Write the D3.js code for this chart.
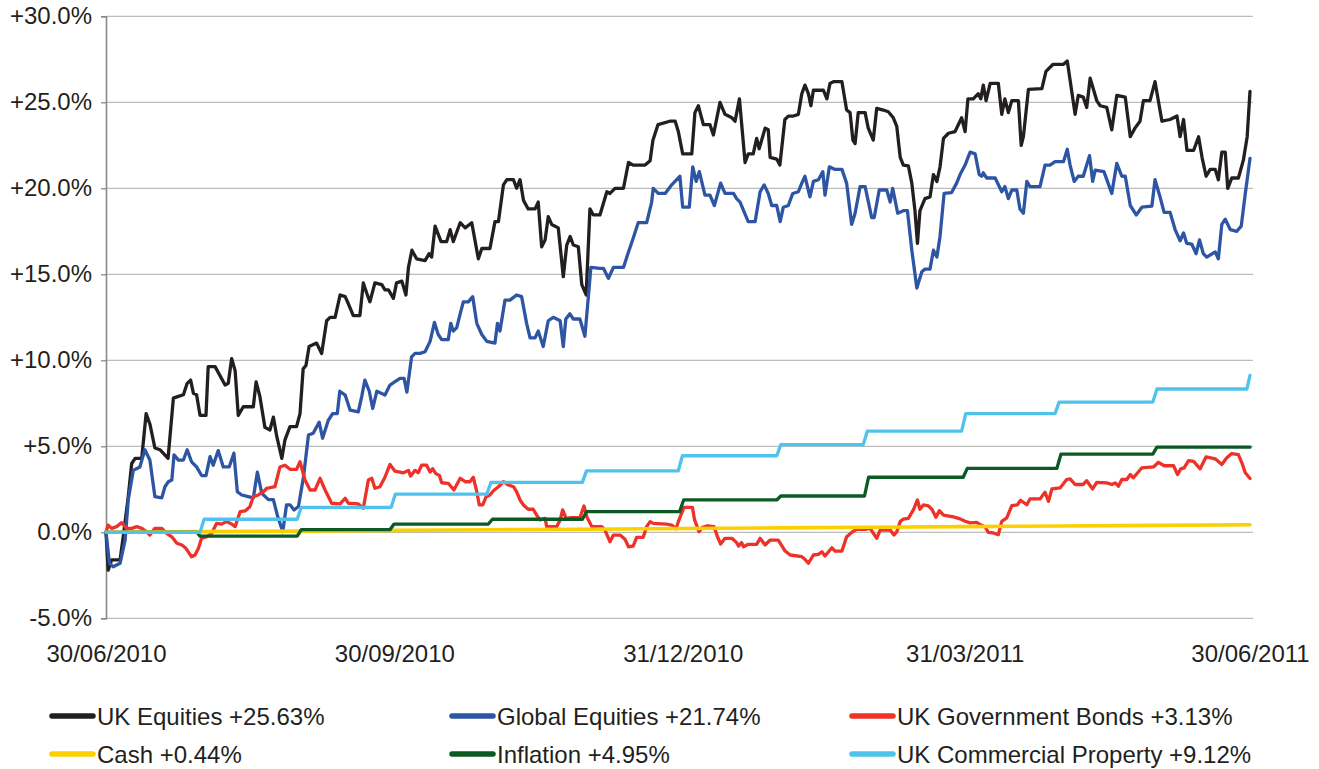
<!DOCTYPE html>
<html><head><meta charset="utf-8">
<script src="https://cdn.jsdelivr.net/npm/d3@7"></script>
<style>
body{margin:0;background:#fff;}
svg{display:block;font-family:"Liberation Sans",Arial,Helvetica,sans-serif;}
</style>
</head><body>
<svg id="chart" width="1319" height="769"></svg>
<script>
// ---------- DATA ----------
const startDate = "2010-06-30";
const endDate = "2011-06-30";
const xTickDates = ["2010-06-30","2010-09-30","2010-12-31","2011-03-31","2011-06-30"];
const yTicks = [-5,0,5,10,15,20,25,30];
const seriesNames = ["UK Equities +25.63%","Global Equities +21.74%","UK Government Bonds +3.13%","Cash +0.44%","Inflation +4.95%","UK Commercial Property +9.12%"];

// [days since 30/06/2010, % return]
const ukEquities = [[0,0],[0.7,-2.2],[1.8,-1.6],[4.5,-1.6],[5.5,-0.25],[7.1,2.07],[8.2,4.0],[9.3,4.3],[11.4,4.3],[12.8,6.9],[14.0,6.3],[15.6,4.9],[17.2,4.8],[19.8,4.3],[21.5,7.8],[23.1,7.9],[24.7,8.0],[25.9,8.66],[27.0,8.85],[27.9,8.08],[28.9,8.0],[30.0,6.8],[31.9,6.8],[32.6,9.63],[34.8,9.63],[38.0,8.56],[39.0,8.66],[40.1,10.1],[41.2,9.4],[42.2,6.8],[43.8,7.3],[47.0,7.3],[47.9,8.75],[49.1,7.9],[50.7,6.1],[52.3,5.95],[53.4,6.7],[54.5,5.56],[56.1,4.3],[57.1,5.37],[58.7,6.14],[60.8,6.14],[61.9,6.9],[62.9,9.5],[63.8,9.7],[64.8,10.8],[67.2,11.0],[68.8,10.4],[70.4,12.3],[71.5,12.5],[73.1,12.5],[74.7,13.8],[76.3,13.7],[77.3,13.3],[78.9,12.6],[81.0,12.6],[82.1,14.5],[83.2,13.9],[84.2,13.4],[85.8,14.5],[88.0,14.4],[89.0,14.1],[90.1,14.1],[91.7,13.6],[92.7,14.5],[94.4,14.6],[95.7,13.8],[96.5,15.4],[97.6,16.4],[99.1,15.9],[101.8,15.8],[103.1,16.2],[103.9,16.0],[105.0,17.8],[106.9,16.9],[108.7,16.9],[109.8,17.6],[110.8,16.9],[113.0,18.0],[114.6,17.7],[116.7,18.0],[118.8,15.9],[119.9,16.5],[122.5,16.5],[124.1,18.06],[125.2,18.06],[126.8,20.2],[127.9,20.5],[130.0,20.5],[131.0,20.0],[132.1,20.5],[133.2,19.3],[134.7,18.8],[136.9,18.8],[137.9,19.2],[139.0,16.6],[140.1,17.0],[141.1,18.35],[142.2,17.9],[144.3,17.7],[145.9,14.86],[147.0,16.7],[148.1,17.2],[149.1,16.7],[150.7,16.6],[151.8,14.4],[153.2,13.8],[154.4,18.8],[155.5,18.45],[157.6,18.45],[159.8,19.8],[160.8,19.7],[162.4,20.0],[165.1,20.0],[166.7,21.5],[168.2,21.35],[172.0,21.35],[173.6,21.6],[174.5,22.8],[176.1,23.7],[179.9,23.9],[181.6,23.9],[182.6,23.3],[184.0,22.0],[186.9,22.0],[187.9,24.4],[189.0,24.8],[190.6,23.7],[192.7,23.7],[193.8,23.1],[195.9,25.0],[197.5,24.3],[199.7,24.1],[200.7,23.9],[202.1,25.2],[203.9,21.5],[204.9,22.0],[206.5,22.0],[207.6,22.9],[208.4,22.3],[210.3,23.5],[211.3,23.4],[211.9,21.8],[214.0,21.7],[215.0,21.35],[216.6,24.0],[217.7,24.2],[219.3,24.2],[220.9,24.3],[222.0,25.5],[223.0,26.0],[224.1,25.5],[224.9,24.8],[225.7,25.7],[228.9,25.7],[230.0,25.2],[231.0,26.1],[232.1,26.2],[234.8,26.2],[236.3,24.55],[237.4,24.4],[238.3,22.8],[239.0,22.6],[240.0,24.4],[242.2,24.4],[243.2,23.5],[244.8,22.8],[245.9,24.65],[248.0,24.55],[249.6,24.45],[251.2,24.1],[252.3,23.6],[253.4,21.8],[254.4,21.35],[256.0,21.3],[257.1,20.3],[258.1,18.7],[258.9,16.8],[259.7,18.7],[261.3,19.4],[262.9,19.5],[264.0,20.8],[265.1,20.4],[266.1,21.25],[267.2,22.9],[268.8,23.2],[270.9,23.3],[273.0,24.1],[274.1,23.3],[275.0,25.2],[276.7,25.2],[278.3,25.5],[279.1,25.2],[279.9,26.0],[280.8,25.1],[282.1,26.1],[284.7,26.1],[285.8,24.3],[286.8,25.2],[287.9,24.4],[289.0,25.1],[291.1,25.1],[292.0,22.5],[292.7,23.0],[294.3,25.75],[298.6,25.8],[299.9,26.8],[302.1,27.2],[305.4,27.2],[306.7,27.4],[309.2,24.3],[310.2,25.4],[311.8,25.3],[312.9,24.7],[314.0,26.4],[316.1,25.1],[317.2,24.8],[319.3,24.7],[320.9,23.4],[322.5,25.4],[325.2,25.3],[326.8,23.0],[328.3,23.5],[329.9,23.9],[331.0,25.1],[333.1,25.1],[334.7,26.2],[336.9,23.9],[339.5,24.0],[341.7,24.2],[342.7,23.0],[343.8,24.0],[344.9,22.2],[347.0,22.2],[348.6,23.0],[349.7,21.8],[351.0,20.7],[352.3,21.1],[353.9,21.1],[354.9,20.5],[356.0,22.1],[357.1,22.1],[357.9,20.0],[359.2,20.6],[361.3,20.6],[362.9,21.65],[364.1,23.0],[365,25.63]];

const globalEquities = [[0,0],[1.1,-1.8],[2.3,-2.0],[4.5,-1.8],[6.1,-0.45],[7.1,1.9],[8.7,3.6],[10.8,3.8],[12.4,4.8],[14.0,4.2],[15.6,2.07],[17.8,2.0],[18.8,2.65],[19.9,2.94],[21.0,3.04],[21.7,4.5],[23.1,4.2],[24.7,4.2],[25.9,4.8],[27.3,4.1],[28.9,3.8],[30.5,3.3],[31.9,3.3],[33.2,4.4],[34.2,3.9],[35.8,4.75],[37.4,3.8],[39.3,3.8],[40.8,4.6],[41.9,2.36],[43.3,2.17],[45.4,2.07],[47.0,2.0],[48.3,3.5],[49.7,2.27],[51.8,1.9],[53.4,1.9],[54.8,0.9],[56.4,0.03],[57.6,1.6],[58.7,1.6],[60.0,1.3],[61.4,1.5],[63.0,3.2],[64.6,5.66],[66.1,5.76],[68.0,6.4],[69.1,5.47],[70.9,6.5],[72.3,6.9],[73.8,6.9],[74.6,8.2],[76.3,7.98],[77.9,7.1],[80.5,7.0],[81.6,7.9],[82.6,8.85],[84.0,8.2],[85.1,7.2],[86.4,8.2],[89.0,7.98],[90.6,8.56],[92.2,8.76],[93.8,8.95],[95.1,8.95],[96.0,8.15],[97.5,10.2],[98.6,10.4],[100.2,10.4],[101.8,10.5],[103.4,11.1],[104.8,12.2],[106.0,11.5],[107.1,11.2],[109.2,11.2],[110.0,12.15],[110.8,11.7],[111.9,11.9],[113.0,12.7],[114.0,13.4],[115.6,13.4],[117.0,13.7],[118.3,12.15],[119.9,11.5],[121.5,11.1],[124.1,11.0],[124.9,12.15],[125.7,11.7],[127.3,13.5],[128.9,13.5],[131.0,13.8],[132.6,13.7],[134.2,12.15],[135.3,11.3],[136.9,11.3],[137.9,11.7],[139.5,10.8],[141.1,12.3],[142.7,12.5],[144.9,12.3],[145.9,10.8],[146.7,12.4],[148.0,12.7],[149.1,12.4],[151.2,12.4],[152.8,11.4],[153.9,13.7],[154.7,15.4],[157.6,15.35],[158.7,15.35],[160.3,14.77],[161.9,15.4],[165.1,15.4],[166.7,16.3],[168.2,17.1],[169.8,18.0],[172.5,18.0],[174.1,19.2],[174.6,20.0],[176.2,19.7],[178.4,19.7],[180.5,20.2],[182.6,20.6],[183.1,20.7],[184.0,18.9],[186.1,18.9],[187.2,21.25],[188.3,20.4],[189.3,20.97],[191.1,19.6],[192.7,19.6],[194.1,19.0],[196.1,20.3],[197.5,19.7],[200.2,19.7],[201.2,19.4],[202.3,19.2],[204.9,18.06],[207.1,18.06],[208.7,19.8],[210.0,20.2],[211.3,19.7],[212.4,19.0],[214.0,19.0],[215.1,18.06],[216.1,18.9],[217.7,19.0],[219.1,19.7],[220.9,19.8],[222.0,20.3],[223.0,20.7],[224.6,19.5],[225.7,20.4],[227.3,20.5],[228.7,20.97],[229.4,19.6],[230.8,21.25],[232.6,21.1],[234.8,21.1],[236.3,20.3],[237.9,17.9],[239.0,18.55],[240.6,20.1],[242.2,20.1],[244.3,18.3],[245.1,18.3],[246.7,19.9],[249.1,19.9],[250.2,19.2],[251.0,20.0],[252.6,18.55],[254.4,18.7],[255.7,18.7],[257.1,16.4],[258.7,14.2],[260.3,15.15],[261.3,15.3],[262.9,15.3],[264.0,16.4],[265.1,16.0],[266.1,17.2],[267.4,19.7],[269.8,19.75],[271.4,20.3],[272.5,20.8],[274.1,21.35],[275.7,22.1],[277.3,22.0],[278.6,20.8],[279.4,20.7],[279.9,20.9],[281.0,20.6],[283.7,20.6],[285.8,19.8],[286.8,20.1],[287.9,19.4],[289.0,19.9],[290.6,19.9],[291.6,18.8],[292.7,18.55],[293.8,20.4],[294.8,20.1],[298.0,20.1],[299.6,21.35],[301.2,21.35],[302.8,21.55],[305.5,21.55],[306.7,22.27],[307.6,21.35],[308.9,20.4],[310.2,20.7],[311.8,20.7],[313.8,21.9],[314.8,20.4],[315.6,21.06],[318.4,20.97],[320.9,19.7],[322.5,21.45],[324.1,20.7],[325.2,20.7],[326.8,19.0],[328.7,18.45],[330.5,18.9],[333.7,18.97],[334.7,20.5],[336.3,19.5],[337.6,18.6],[339.5,18.6],[341.1,17.6],[342.7,16.95],[343.8,17.4],[344.8,16.8],[346.4,16.76],[347.8,16.2],[348.9,17.0],[350.1,16.2],[351.2,16.0],[353.9,16.3],[354.9,15.9],[356.0,17.9],[357.1,18.2],[358.7,17.6],[360.8,17.5],[362.2,17.8],[363.5,19.7],[365,21.74]];

const ukGovBonds = [[0,0],[0.7,0.42],[1.8,0.23],[3.4,0.33],[5.0,0.56],[6.6,0.23],[8.2,0.23],[9.8,0.33],[11.4,0.23],[13.0,0.03],[14.0,-0.16],[15.6,0.23],[17.8,0.23],[19.4,-0.06],[21.0,-0.26],[22.6,-0.64],[24.2,-0.74],[25.5,-0.93],[27.3,-1.42],[28.4,-1.32],[29.5,-0.93],[30.5,-0.35],[32.1,-0.26],[33.7,-0.06],[35.3,0.52],[36.9,0.48],[38.5,0.62],[40.1,0.48],[41.2,0.33],[42.8,1.2],[44.4,1.24],[45.9,1.49],[47.0,2.07],[48.6,2.17],[50.2,2.36],[51.3,2.56],[53.9,2.65],[55.5,3.8],[57.1,3.9],[58.7,3.66],[60.8,3.66],[61.9,4.1],[63.5,3.04],[65.1,2.46],[66.7,2.46],[68.3,3.14],[69.9,2.46],[72.0,1.69],[74.7,1.65],[76.3,1.98],[77.3,1.69],[80.5,1.65],[82.1,1.4],[83.7,3.04],[84.8,3.14],[85.8,2.56],[87.4,2.65],[89.0,3.2],[90.6,3.95],[92.2,3.55],[94.9,3.46],[96.5,3.6],[97.2,3.27],[98.6,3.6],[99.6,3.46],[100.7,3.9],[102.3,3.9],[103.4,3.5],[104.2,3.7],[105.3,3.4],[106.4,3.3],[107.1,2.88],[109.2,2.85],[111.0,2.46],[113.0,3.14],[114.6,2.94],[116.1,2.94],[117.2,3.2],[118.3,2.36],[119.1,1.59],[120.2,1.59],[121.3,2.07],[122.5,2.17],[123.6,2.42],[125.2,2.65],[126.8,2.94],[128.4,2.75],[130.0,2.65],[131.0,2.36],[132.1,1.88],[133.2,1.59],[134.7,1.34],[136.3,1.34],[137.4,1.0],[138.5,0.72],[140.1,0.81],[140.6,0.33],[143.8,0.33],[144.9,0.72],[145.7,1.3],[146.8,0.81],[148.6,0.85],[151.2,0.85],[152.5,1.53],[153.4,0.91],[155.0,0.33],[158.2,0.33],[159.2,0.13],[160.8,-0.55],[161.9,-0.16],[164.0,-0.16],[165.6,-0.41],[166.7,-0.84],[168.2,-0.8],[169.3,-0.29],[171.4,-0.29],[172.5,0.33],[173.6,0.62],[174.6,0.52],[178.9,0.48],[180.5,0.42],[181.9,0.2],[182.6,0.62],[184.4,1.45],[187.1,1.45],[187.8,0.72],[189.2,0.03],[190.3,0.29],[191.9,0.37],[194.0,0.33],[195.1,-0.26],[196.1,-0.68],[197.5,-0.35],[199.7,-0.35],[201.2,-0.6],[201.8,-0.8],[202.8,-0.6],[203.4,-0.84],[204.9,-0.7],[207.6,-0.7],[208.7,-0.35],[210.3,-0.74],[211.9,-0.45],[214.5,-0.45],[216.6,-1.07],[218.3,-1.32],[222.0,-1.42],[223.0,-1.57],[224.1,-1.8],[225.7,-1.32],[227.3,-1.28],[228.4,-1.13],[229.4,-1.38],[231.6,-0.9],[232.6,-1.09],[234.8,-1.09],[236.3,-0.26],[238.2,0.03],[239.5,0.17],[242.2,0.17],[243.8,0.23],[245.9,-0.35],[247.0,0.13],[250.2,0.13],[251.4,-0.16],[252.3,0.03],[253.4,0.62],[254.4,0.77],[256.0,0.81],[257.6,1.3],[258.9,1.88],[259.7,1.34],[260.8,1.59],[262.4,1.53],[263.5,1.34],[264.8,0.87],[265.9,1.26],[267.2,1.0],[270.4,0.9],[272.5,0.78],[274.1,0.64],[275.7,0.55],[277.8,0.58],[278.9,0.45],[280.5,0.31],[281.5,0.0],[283.1,-0.04],[284.7,-0.14],[285.8,0.64],[287.4,0.84],[289.0,1.55],[290.8,1.6],[291.8,1.86],[293.8,1.6],[294.8,1.94],[298.0,1.94],[299.6,2.33],[300.7,1.8],[301.8,2.52],[304.4,2.58],[306.5,3.07],[307.6,3.11],[309.2,2.78],[311.8,2.78],[312.9,3.0],[314.8,2.52],[316.1,2.9],[319.3,2.87],[320.9,2.78],[322.0,2.87],[323.0,2.68],[324.1,3.07],[325.7,3.07],[326.8,3.36],[327.8,3.17],[330.5,3.75],[334.2,3.8],[335.8,4.07],[337.6,3.87],[340.6,3.87],[341.9,3.36],[342.9,3.69],[344.0,3.75],[345.4,4.17],[347.0,4.12],[349.1,3.69],[351.0,4.39],[353.9,4.27],[356.0,3.94],[357.6,4.33],[359.2,4.58],[361.3,4.52],[362.4,4.04],[363.5,3.46],[365,3.13]];

const cash = [[0,0],[31,0.04],[62,0.07],[92,0.11],[123,0.15],[153,0.18],[184,0.22],[215,0.26],[243,0.29],[274,0.33],[304,0.37],[335,0.40],[365,0.44]];

const inflation = [[0,0],[29,0],[30,-0.22],[61,-0.22],[62.3,0.15],[90.6,0.15],[91.9,0.48],[122,0.48],[123.3,0.76],[152,0.76],[153.3,1.2],[183,1.2],[184.3,1.88],[214,1.88],[215.3,2.11],[242,2.11],[243.3,3.2],[273.5,3.2],[274.8,3.72],[303.4,3.72],[304.7,4.55],[334,4.55],[335.3,4.95],[365,4.95]];

const ukCommercialProperty = [[0,0],[30,0],[31.3,0.76],[61,0.76],[62.3,1.45],[91,1.45],[92.3,2.22],[121.5,2.22],[122.8,2.9],[152,2.9],[153.3,3.57],[182.6,3.57],[183.9,4.45],[214,4.45],[215.3,5.1],[241.6,5.1],[242.9,5.88],[273,5.88],[274.3,6.9],[302.8,6.9],[304.1,7.57],[334,7.57],[335.3,8.33],[364,8.33],[365,9.12]];

// ---------- STYLE ----------
const seriesColors = ["#231f20","#2d55a4","#ee3129","#fcd000","#0b5a22","#4fc3ec"];
const allSeries = [ukEquities, globalEquities, ukGovBonds, cash, inflation, ukCommercialProperty];

// ---------- CHART ----------
const svg = d3.select("#chart");
const parse = d3.utcParse("%Y-%m-%d");
const t0 = parse(startDate);
const toDate = d => new Date(t0.getTime() + d * 86400000);

const margin = {left:106, right:69, top:16.3, bottom:150.7};
const W = 1319, H = 769;
const x = d3.scaleUtc().domain([t0, parse(endDate)]).range([margin.left, W - margin.right]);
const y = d3.scaleLinear().domain([-5, 30]).range([H - margin.bottom, margin.top]);
const gridRight = W - margin.right + 3;

const textColor = "#231f20";
const fmtY = v => (v > 0 ? "+" : "") + v.toFixed(1) + "%";

// gridlines
svg.append("g").selectAll("line").data(yTicks).join("line")
  .attr("x1", margin.left).attr("x2", gridRight)
  .attr("y1", d => y(d)).attr("y2", d => y(d))
  .attr("stroke", "#bcbcbc").attr("stroke-width", 1.3);

// y axis
const yAxis = d3.axisLeft(y).tickValues(yTicks).tickFormat(fmtY).tickSize(5).tickPadding(9);
const gy = svg.append("g").attr("transform", `translate(${margin.left},0)`).call(yAxis);
gy.select(".domain").attr("stroke", "#8a8a8a").attr("stroke-width", 1.6);
gy.selectAll(".tick line").attr("stroke", "#8a8a8a").attr("stroke-width", 1.3);
gy.selectAll(".tick text").attr("fill", textColor).style("font-size", "24px")
  .style("font-family", '"Liberation Sans",Arial,sans-serif');

// x labels
const xAxis = d3.axisBottom(x).tickValues(xTickDates.map(parse)).tickFormat(d3.utcFormat("%d/%m/%Y")).tickSize(0).tickPadding(0);
const gx = svg.append("g").attr("transform", `translate(0,${y(-5) + 27})`).call(xAxis);
gx.select(".domain").remove();
gx.selectAll(".tick text").attr("fill", textColor).style("font-size", "24px")
  .style("font-family", '"Liberation Sans",Arial,sans-serif');

// lines
const line = d3.line().x(d => x(toDate(d[0]))).y(d => y(d[1])).curve(d3.curveLinear);
svg.append("g").selectAll("path").data(allSeries).join("path")
  .attr("d", line)
  .attr("fill", "none")
  .attr("stroke", (d, i) => seriesColors[i])
  .attr("stroke-width", (d, i) => i === 3 ? 3.6 : 3.3)
  .attr("stroke-linejoin", "round")
  .attr("stroke-linecap", "round");

// legend
const legendCols = [50, 450, 850];
const legendRows = [716, 754];
const lg = svg.append("g").selectAll("g").data(seriesNames).join("g")
  .attr("transform", (d, i) => `translate(${legendCols[i % 3]},${legendRows[Math.floor(i / 3)]})`);
lg.append("line").attr("x1", 2).attr("x2", 43).attr("y1", 0).attr("y2", 0)
  .attr("stroke", (d, i) => seriesColors[i]).attr("stroke-width", 5.5).attr("stroke-linecap", "round");
lg.append("text").attr("x", 47).attr("y", 0).attr("dy", "0.36em")
  .attr("fill", textColor).style("font-size", "24px").text(d => d);
</script>
</body></html>
